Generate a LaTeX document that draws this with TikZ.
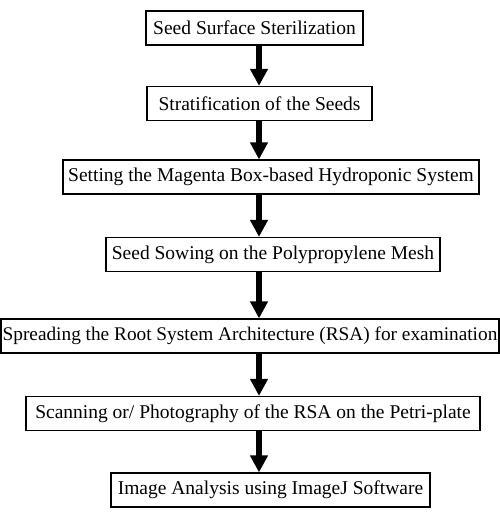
\documentclass[tikz,border=0pt]{standalone}
\usepackage{fontspec}
\setmainfont{Liberation Serif}
\usetikzlibrary{arrows.meta}

\begin{document}
\begin{tikzpicture}[x=1pt, y=-1pt,
    stepbox/.style={draw, line width=1.2pt, minimum height=34pt,
      inner xsep=2pt, inner ysep=0pt, font=\fontsize{19.5}{22}\selectfont},
    flow/.style={-{Triangle[length=17pt, width=17pt]}, line width=6pt}
  ]
    \useasboundingbox (0,0) rectangle (500,519);

    % Steps
    \node[stepbox, minimum width=217pt] (step1) at (254.5,28) {Seed Surface Sterilization};
    \node[stepbox, minimum width=225pt] (step2) at (259.5,103.5) {Stratification of the Seeds};
    \node[stepbox, minimum width=416pt] (step3) at (271,177) {Setting the Magenta Box-based Hydroponic System};
    \node[stepbox, minimum width=334pt] (step4) at (273,254.5) {Seed Sowing on the Polypropylene Mesh};
    \node[stepbox, minimum width=498pt, inner xsep=0pt, font=\fontsize{19.3}{22}\selectfont] (step5) at (250,336) {Spreading the Root System Architecture (RSA) for examination};
    \node[stepbox, minimum width=454pt] (step6) at (253,413.5) {Scanning or/ Photography of the RSA on the Petri-plate};
    \node[stepbox, minimum width=319pt] (step7) at (270.5,490) {Image Analysis using ImageJ Software};

    % Arrows
    \coordinate (axis) at (259,0);
    \foreach \i [evaluate=\i as \j using int(\i+1)] in {1,...,6}
      \draw[flow] (step\i.south -| axis) -- (step\j.north -| axis);

  \end{tikzpicture}
\end{document}
